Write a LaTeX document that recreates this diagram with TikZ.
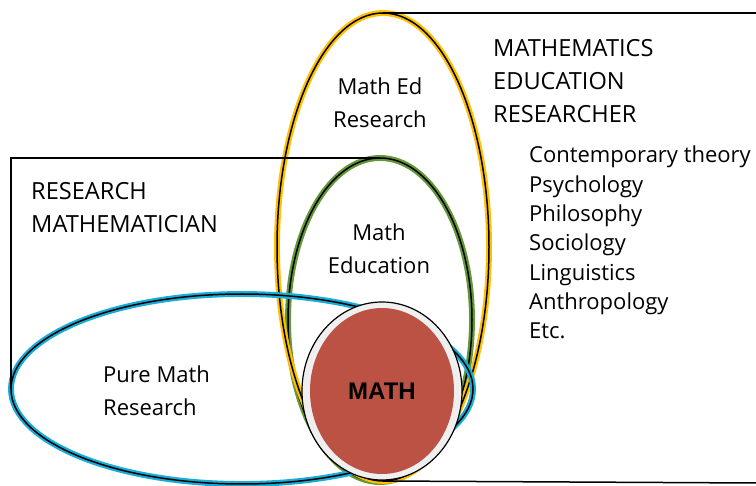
\documentclass[tikz,border=0pt]{standalone}
\usepackage{fontspec}
\setmainfont{Open Sans}
\newfontfamily\mathfont{Liberation Sans}
\usetikzlibrary{shapes.geometric}
\definecolor{yel}{HTML}{FFC000}
\definecolor{grn}{HTML}{64963A}
\definecolor{blu}{HTML}{1AACD8}
\definecolor{redm}{HTML}{BC5244}
\definecolor{ringc}{HTML}{EFEFEF}
\tikzset{
  oval/.style={ellipse, inner sep=0pt, outer sep=0pt, line width=2.2pt, double=black, double distance=1.5pt},
  bracket/.style={draw=black, line width=1.5pt},
  lbl/.style={inner sep=0pt, font=\fontsize{22}{33}\selectfont},
  caps/.style={inner sep=0pt, font=\fontsize{23.6}{33}\selectfont, anchor=base west},
  lst/.style={inner sep=0pt, font=\fontsize{22}{29.3}\selectfont, anchor=base west},
}
\begin{document}
\begin{tikzpicture}[x=1pt, y=-1pt]
\useasboundingbox (0,0) rectangle (756,486);
% ellipses
\node[oval, draw=grn, minimum width=184pt, minimum height=324pt] (G) at (380,320) {};
\node[oval, draw=yel, minimum width=212pt, minimum height=468pt] (Y) at (383,247) {};
\node[oval, draw=blu, minimum width=462pt, minimum height=190pt] (B) at (242,389) {};
% brackets
\coordinate (TR) at (756,13);
\coordinate (BR) at (756,483);
\draw[bracket] (B.west) |- (G.north);
\draw[bracket] (Y.north) -- (TR);
\draw[bracket] (Y.south) -- (BR);
% MATH circle
\node[ellipse, fill=ringc, draw=black, line width=1.2pt, inner sep=0pt, minimum width=160pt, minimum height=178pt] (M) at (382,391) {};
\node[ellipse, fill=redm, inner sep=0pt, minimum width=144pt, minimum height=166pt, font=\mathfont\bfseries\fontsize{24}{28}\selectfont] (MI) at (M.center) {MATH};
% labels
\node[lbl, anchor=base] (med) at (380,95) {\begin{tabular}[t]{@{}c@{}}Math Ed\\Research\end{tabular}};
\node[lbl, anchor=base] (ed) at (379,241) {\begin{tabular}[t]{@{}c@{}}Math\\Education\end{tabular}};
\node[lbl, anchor=base west] (pm) at (103,383) {\begin{tabular}[t]{@{}l@{}}Pure Math\\Research\end{tabular}};
\node[caps] (rm) at (31,200) {\begin{tabular}[t]{@{}l@{}}RESEARCH\\MATHEMATICIAN\end{tabular}};
\node[caps] (mer) at (493,57) {\begin{tabular}[t]{@{}l@{}}MATHEMATICS\\EDUCATION\\RESEARCHER\end{tabular}};
\node[lst] (list) at (529,163) {\begin{tabular}[t]{@{}l@{}}Contemporary theory\\Psychology\\Philosophy\\Sociology\\Linguistics\\Anthropology\\Etc.\end{tabular}};
\end{tikzpicture}
\end{document}
